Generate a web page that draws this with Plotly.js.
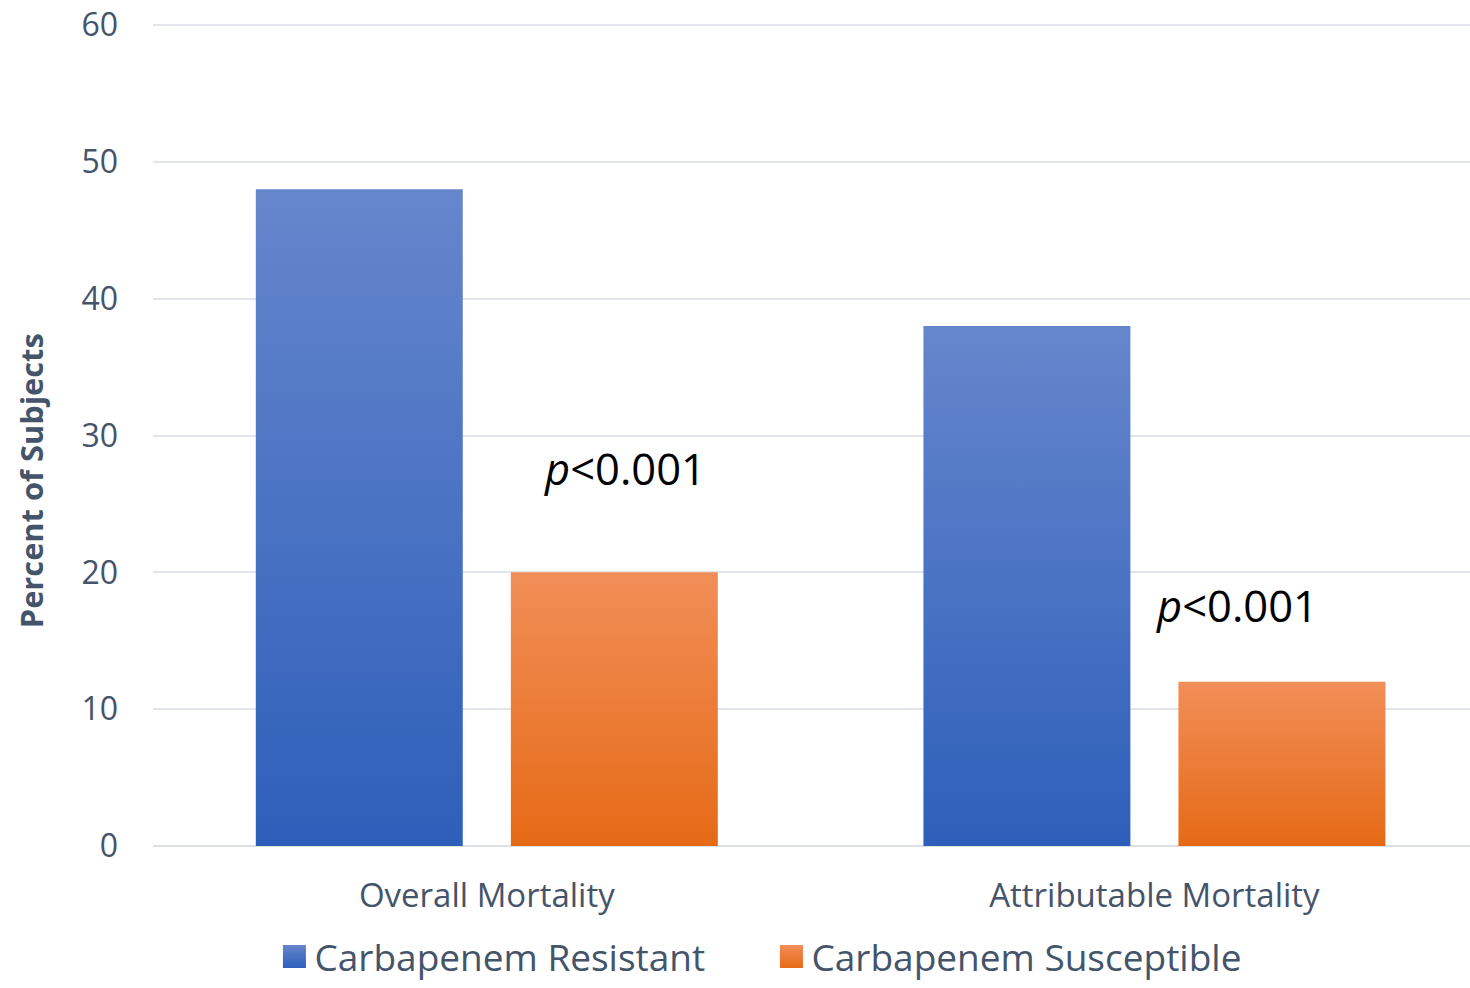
<!DOCTYPE html>
<html>
<head>
<meta charset="utf-8">
<script src="https://cdn.plot.ly/plotly-3.0.1.min.js"></script>
<style>
  html, body { margin: 0; padding: 0; background: #fff; overflow: hidden; }
  #chart { width: 1470px; height: 988px; }
</style>
</head>
<body>
<div id="chart"></div>
<script>
// Mortality outcomes by carbapenem susceptibility
const categories = ['Overall Mortality', 'Attributable Mortality'];
const seriesNames = ['Carbapenem Resistant', 'Carbapenem Susceptible'];
const resistant = [48, 38];
const susceptible = [20, 12];
const pValueLabels = ['<i>p</i>&lt;0.001', '<i>p</i>&lt;0.001'];
const yTickValues = [0, 10, 20, 30, 40, 50, 60];

const TEXT = '#44546a';
const FONT = '"Open Sans", "Noto Sans", sans-serif';

// top/bottom colours of each series' vertical gradient
const gradients = [
  { id: 'grad-resistant', top: '#6686cc', bottom: '#2d5fba', flat: '#4472c4' },
  { id: 'grad-susceptible', top: '#f18e58', bottom: '#e66a16', flat: '#ed7d31' }
];

const traces = [
  {
    type: 'bar', name: seriesNames[0], x: categories, y: resistant,
    width: 0.31, offset: -0.346,
    marker: { color: gradients[0].flat, line: { width: 0 } },
    hoverinfo: 'none'
  },
  {
    type: 'bar', name: seriesNames[1], x: categories, y: susceptible,
    width: 0.31, offset: 0.036,
    marker: { color: gradients[1].flat, line: { width: 0 } },
    hoverinfo: 'none'
  }
];

const layout = {
  width: 1470, height: 988,
  margin: { l: 153, r: 0, t: 24, b: 142 },
  paper_bgcolor: '#ffffff', plot_bgcolor: '#ffffff',
  barmode: 'overlay',
  font: { family: FONT, color: TEXT },
  showlegend: true,
  legend: {
    orientation: 'h',
    xref: 'container', yref: 'container',
    x: 0.1867, xanchor: 'left', y: 0, yanchor: 'bottom',
    entrywidth: 452, entrywidthmode: 'pixels',
    font: { family: FONT, size: 37, color: TEXT },
    itemclick: false, itemdoubleclick: false
  },
  xaxis: {
    type: 'category', range: [-0.5, 1.4727],
    showgrid: false, zeroline: false, showline: false, ticks: '',
    tickfont: { family: FONT, size: 33, color: TEXT },
    ticklabelstandoff: 27, fixedrange: true
  },
  yaxis: {
    range: [0, 60.08], tickvals: yTickValues,
    showgrid: true, gridcolor: '#e2e5e9', gridwidth: 2,
    zeroline: true, zerolinecolor: '#dcdfe3', zerolinewidth: 2,
    showline: false, ticks: '',
    tickfont: { family: FONT, size: 32, color: TEXT },
    ticklabelstandoff: 34, fixedrange: true
  },
  annotations: [
    {
      text: 'Percent of Subjects', textangle: -90,
      xref: 'paper', yref: 'paper', x: -0.0925, y: 0.444,
      xanchor: 'center', yanchor: 'middle', showarrow: false,
      font: { family: FONT, size: 30.8, color: TEXT, weight: 'bold' }
    },
    {
      text: pValueLabels[0], xref: 'x', yref: 'y', x: 0.207, y: 27.62,
      xanchor: 'center', yanchor: 'middle', showarrow: false,
      font: { family: FONT, size: 43.5, color: '#000000' }
    },
    {
      text: pValueLabels[1], xref: 'x', yref: 'y', x: 1.1235, y: 17.57,
      xanchor: 'center', yanchor: 'middle', showarrow: false,
      font: { family: FONT, size: 43.5, color: '#000000' }
    }
  ]
};

// Replace flat bar fills with per-bar vertical gradients and enlarge legend swatches
function applyGradients(gd) {
  const svg = gd.querySelector('.main-svg');
  if (!svg) return;
  let defs = svg.querySelector('defs');
  if (!defs) {
    defs = document.createElementNS('http://www.w3.org/2000/svg', 'defs');
    svg.insertBefore(defs, svg.firstChild);
  }
  gradients.forEach(g => {
    if (defs.querySelector('#' + g.id)) return;
    const lg = document.createElementNS('http://www.w3.org/2000/svg', 'linearGradient');
    lg.setAttribute('id', g.id);
    lg.setAttribute('x1', '0'); lg.setAttribute('y1', '0');
    lg.setAttribute('x2', '0'); lg.setAttribute('y2', '1');
    [['0', g.top], ['1', g.bottom]].forEach(([off, col]) => {
      const st = document.createElementNS('http://www.w3.org/2000/svg', 'stop');
      st.setAttribute('offset', off);
      st.setAttribute('stop-color', col);
      lg.appendChild(st);
    });
    defs.appendChild(lg);
  });
  gd.querySelectorAll('.barlayer .trace.bars').forEach((tr, i) => {
    tr.querySelectorAll('.point path').forEach(p => {
      p.style.fill = 'url(#' + gradients[i].id + ')';
    });
  });
  gd.querySelectorAll('.legend .traces').forEach((tr, i) => {
    tr.querySelectorAll('.legendpoints path').forEach(p => {
      p.setAttribute('d', 'M11.5,11.5H-11.5V-11.5H11.5Z');
      p.style.fill = 'url(#' + gradients[i].id + ')';
      p.style.stroke = 'none';
    });
  });
}

const gd = document.getElementById('chart');
Plotly.newPlot(gd, traces, layout, { staticPlot: true, displayModeBar: false })
  .then(() => applyGradients(gd));
gd.on && gd.on('plotly_afterplot', () => applyGradients(gd));
</script>
</body>
</html>
